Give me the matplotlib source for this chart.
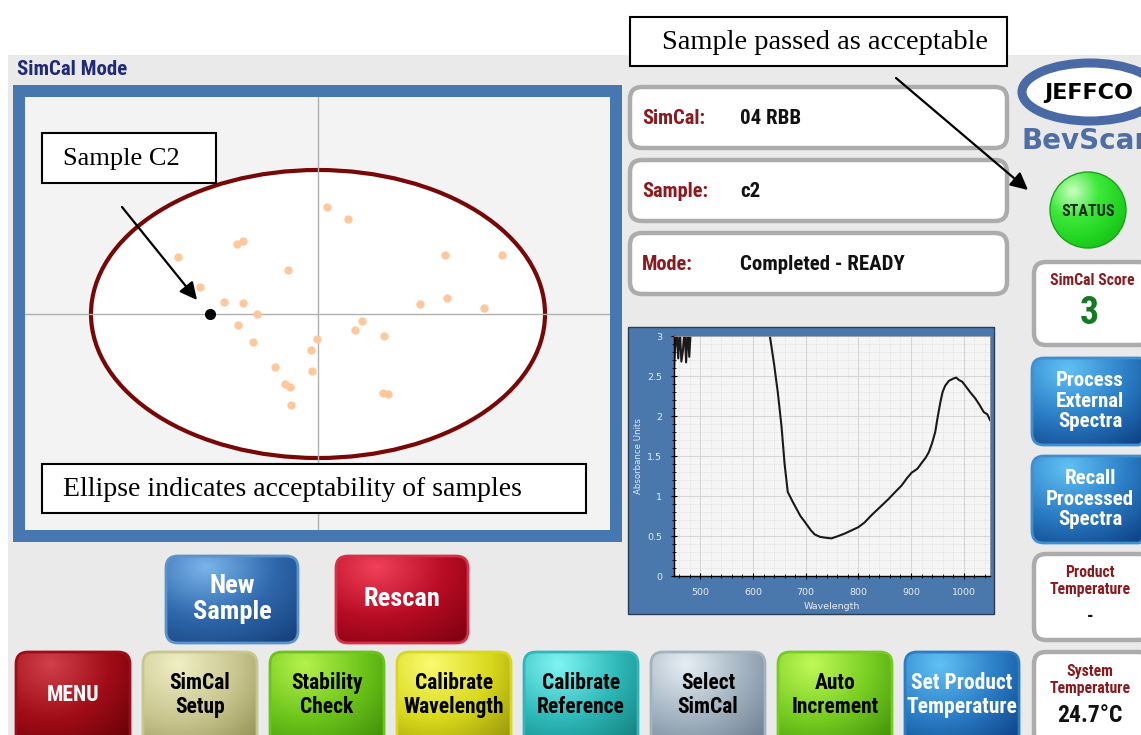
import numpy as np
import matplotlib
matplotlib.use("Agg")
import matplotlib.pyplot as plt
from matplotlib.patches import Rectangle, FancyBboxPatch, Ellipse, Circle
from matplotlib.colors import LinearSegmentedColormap

W, H = 1141, 735
UI = ['Roboto Condensed', 'Liberation Sans Narrow', 'Roboto', 'DejaVu Sans']
SERIF = ['Liberation Serif', 'DejaVu Serif']

# scatter of SimCal scores (PC1, PC2)
pc1 = [0.09, 0.30, -1.40, -0.81, -0.75, -0.30, 1.27, 1.84, -1.18, -0.94, -0.75, -0.61, 1.02, 1.29, 1.66,
       -0.80, 0.44, 0.37, -0.65, 0.66, -0.01, -0.07, -0.43, -0.06, -0.33, -0.28, -0.27, 0.65, 0.70]
pc2 = [1.07, 0.95, 0.57, 0.70, 0.73, 0.44, 0.59, 0.59, 0.27, 0.12, 0.11, 0.00, 0.10, 0.16, 0.06,
       -0.11, -0.07, -0.16, -0.28, -0.22, -0.25, -0.36, -0.53, -0.57, -0.70, -0.73, -0.91, -0.79, -0.80]
sample_c2 = (-1.08, 0.00)
limit_w, limit_h = 4.54, 2.88

# absorbance spectrum
wavelength = [450, 452, 455, 458, 461, 464, 467, 470, 473, 476, 479, 482, 486, 600, 632, 640, 647, 654,
              660, 666, 676, 690, 698, 710, 717, 727, 736, 749, 762, 774, 787, 800, 812, 825, 841, 857,
              870, 882, 892, 901, 912, 921, 928, 934, 940, 946, 951, 956, 960, 965, 972, 981, 986, 991,
              997, 1003, 1012, 1022, 1030, 1038, 1045, 1050]
absorbance = [2.59, 2.85, 3.05, 2.72, 3.1, 2.68, 2.82, 3.1, 2.67, 3.1, 2.74, 3.1, 3.2, 3.3, 3.0, 2.65,
              2.30, 1.88, 1.40, 1.05, 0.92, 0.75, 0.68, 0.57, 0.52, 0.49, 0.48, 0.47, 0.50, 0.53, 0.57,
              0.61, 0.67, 0.76, 0.86, 0.96, 1.05, 1.13, 1.22, 1.29, 1.34, 1.42, 1.48, 1.55, 1.66, 1.80,
              2.00, 2.18, 2.30, 2.38, 2.44, 2.47, 2.48, 2.45, 2.43, 2.38, 2.30, 2.22, 2.14, 2.05, 2.02, 1.95]

info_labels = ['SimCal:', 'Sample:', 'Mode:']
info_values = ['04 RBB', 'c2', 'Completed - READY']

bottom_buttons = ['MENU', 'SimCal\nSetup', 'Stability\nCheck', 'Calibrate\nWavelength',
                  'Calibrate\nReference', 'Select\nSimCal', 'Auto\nIncrement', 'Set Product\nTemperature']
bottom_colors = [('#d0404a', '#a00c16', '#5e0006', 'white'),
                 ('#f0eec4', '#c9c690', '#8f8c50', 'black'),
                 ('#b4f24c', '#6cc41a', '#3a8806', 'black'),
                 ('#fafa70', '#d8d81c', '#8f8c08', 'black'),
                 ('#80f4f4', '#2eb8b8', '#107878', 'black'),
                 ('#e6eef4', '#a2b2c0', '#66788a', 'black'),
                 ('#c0f858', '#76cc20', '#3a8a08', 'black'),
                 ('#60c0f4', '#2a7cc4', '#0a3a7e', 'white')]

fig = plt.figure(figsize=(W / 100, H / 100), dpi=100)
fig.patch.set_facecolor('white')


def px_axes(x0, y0, x1, y1, **kw):
    return fig.add_axes([x0 / W, 1 - y1 / H, (x1 - x0) / W, (y1 - y0) / H], **kw)


bg = px_axes(0, 0, W, H)
bg.set_axis_off()


def grad_box(ax, x0, y0, x1, y1, colors, rim, r=12, z=2):
    patch = FancyBboxPatch((x0, y0), x1 - x0, y1 - y0, boxstyle=f"round,pad=0,rounding_size={r}",
                           fc='none', ec=rim, lw=2, zorder=z + 1)
    ax.add_patch(patch)
    X, Y = np.meshgrid(np.linspace(0, 1, 80), np.linspace(0, 1, 50))
    t = np.sqrt((X - 0.3) ** 2 + ((Y - 0.12) * 0.9) ** 2)
    t = t / t.max()
    cmap = LinearSegmentedColormap.from_list('g', colors)
    im = ax.imshow(t, extent=(x0, x1, y1, y0), origin='upper', cmap=cmap, aspect='auto',
                   interpolation='bilinear', zorder=z)
    im.set_clip_path(patch)


def white_box(ax, x0, y0, x1, y1, r=12):
    ax.add_patch(FancyBboxPatch((x0, y0), x1 - x0, y1 - y0, boxstyle=f"round,pad=0,rounding_size={r}",
                                fc='white', ec='#acacac', lw=3.2, zorder=2))


# panel background
bg.add_patch(Rectangle((8, 55), W - 8, H - 55, fc='#eaeaeb', ec='none', zorder=0))
bg.text(17, 69, 'SimCal Mode', family=UI, weight='bold', fontsize=15, color='#1f2a78', va='center')

# scatter frame
bg.add_patch(Rectangle((13, 85), 609, 457, fc='#4677b0', ec='none', zorder=1))

# info boxes
for i, (lab, val) in enumerate(zip(info_labels, info_values)):
    y0 = 87 + i * 73
    white_box(bg, 630, y0, 1007, y0 + 61)
    bg.text(642, y0 + 31, lab, family=UI, weight='bold', fontsize=14.7, color='#8b1a1e', va='center', zorder=3)
    bg.text(740, y0 + 31, val, family=UI, weight='bold', fontsize=15, color='#111111', va='center', zorder=3)

# spectrum frame
bg.add_patch(Rectangle((628, 327), 366, 287, fc='#4a78ad', ec='#2b3d55', lw=1, zorder=1))

# logo
bg.add_patch(Ellipse((1090, 92), 136, 58, fc='white', ec='#4a6aa6', lw=6.5, zorder=2))
bg.text(1089, 93, 'JEFFCO', family='DejaVu Sans', weight='bold', fontsize=16, color='black',
        ha='center', va='center', zorder=3)
bg.text(1021, 141, 'BevScan', family='DejaVu Sans', weight='bold', fontsize=20, color='#4f6ea5',
        ha='left', va='center', zorder=3)

# status light
circ = Circle((1088, 210), 38, fc='none', ec='#17a517', lw=1, zorder=3)
bg.add_patch(circ)
X, Y = np.meshgrid(np.linspace(0, 1, 80), np.linspace(0, 1, 80))
tt = np.sqrt((X - 0.3) ** 2 + (Y - 0.25) ** 2)
tt = tt / tt.max()
im = bg.imshow(tt, extent=(1050, 1126, 248, 172), origin='upper', aspect='auto', interpolation='bilinear',
               cmap=LinearSegmentedColormap.from_list('s', ['#c8ffc0', '#3ee83a', '#1fd21f', '#14a814']),
               zorder=2)
im.set_clip_path(circ)
bg.text(1088, 211, 'STATUS', family=UI, weight='bold', fontsize=11.5, color='#0c2a0c',
        ha='center', va='center', zorder=4)

# right column
white_box(bg, 1034, 262, 1150, 345)
bg.text(1092, 280, 'SimCal Score', family=UI, weight='bold', fontsize=11.3, color='#8b1a1e', ha='center',
        va='center', zorder=3)
bg.text(1089, 313, '3', family=UI, weight='bold', fontsize=27, color='#127a22', ha='center', va='center', zorder=3)

blue = ('#60c0f4', '#2a7cc4', '#0a3a7e')
grad_box(bg, 1032, 358, 1150, 445, blue, '#3f8ed0')
bg.text(1090, 401, 'Process\nExternal\nSpectra', family=UI, weight='bold', fontsize=15, color='white',
        ha='center', va='center', linespacing=1.1, zorder=5)
grad_box(bg, 1032, 456, 1150, 543, blue, '#3f8ed0')
bg.text(1090, 499, 'Recall\nProcessed\nSpectra', family=UI, weight='bold', fontsize=15, color='white',
        ha='center', va='center', linespacing=1.1, zorder=5)

white_box(bg, 1034, 554, 1150, 640)
bg.text(1090, 581, 'Product\nTemperature', family=UI, weight='bold', fontsize=11.3, color='#8b1a1e',
        ha='center', va='center', linespacing=1.15, zorder=3)
bg.text(1090, 617, '-', family=UI, weight='bold', fontsize=13, color='#111111', ha='center', va='center', zorder=3)

white_box(bg, 1034, 652, 1150, 745)
bg.text(1090, 680, 'System\nTemperature', family=UI, weight='bold', fontsize=11.3, color='#8b1a1e',
        ha='center', va='center', linespacing=1.15, zorder=3)
bg.text(1090, 716, '24.7°C', family=UI, weight='bold', fontsize=17, color='#111111', ha='center',
        va='center', zorder=3)

# New Sample / Rescan
grad_box(bg, 166, 556, 298, 643, ('#7ab4ea', '#2f68ac', '#143e78'), '#5a92cc')
bg.text(232, 599, 'New\nSample', family=UI, weight='bold', fontsize=19, color='white', ha='center',
        va='center', linespacing=1.08, zorder=5)
grad_box(bg, 336, 556, 468, 643, ('#f0405a', '#b80c24', '#7a0010'), '#d83048')
bg.text(402, 599, 'Rescan', family=UI, weight='bold', fontsize=19, color='white', ha='center',
        va='center', zorder=5)

# bottom row
for i, (lab, (c1, c2, c3, tc)) in enumerate(zip(bottom_buttons, bottom_colors)):
    x0 = 16 + i * 127
    grad_box(bg, x0, 652, x0 + 114, 748, (c1, c2, c3), c2)
    bg.text(x0 + 57, 695, lab, family=UI, weight='bold', fontsize=15.5, color=tc, ha='center',
            va='center', linespacing=1.08, zorder=5)

bg.set_xlim(0, W)
bg.set_ylim(H, 0)

# scatter plot
ax = px_axes(25, 97, 610, 530)
ax.set_facecolor('#f3f3f3')
ax.add_patch(Ellipse((0, 0), limit_w, limit_h, fc='white', ec='#780808', lw=3, zorder=1))
ax.axhline(0, color='#b0b0b0', lw=1, zorder=2)
ax.axvline(0, color='#b0b0b0', lw=1, zorder=2)
ax.plot(pc1, pc2, 'o', color='#fcc89c', ms=6, mec='none', zorder=3)
ax.plot(*sample_c2, 'o', color='black', ms=7, zorder=4)
ax.set_xlim(-2.93, 2.92)
ax.set_ylim(-2.16, 2.17)
ax.set_xticks([])
ax.set_yticks([])
for s in ax.spines.values():
    s.set_visible(False)

# spectrum
sp = px_axes(674, 336, 990, 576)
sp.set_facecolor('#f5f5f5')
sp.plot(wavelength, absorbance, color='#1a1a1a', lw=1.5)
sp.set_xlim(450, 1050)
sp.set_ylim(0, 3)
sp.set_xticks([500, 600, 700, 800, 900, 1000])
sp.set_yticks([0, 0.5, 1, 1.5, 2, 2.5, 3])
sp.set_yticklabels(['0', '0.5', '1', '1.5', '2', '2.5', '3'])
sp.set_xticks(np.arange(460, 1050, 20), minor=True)
sp.set_yticks(np.arange(0.1, 3, 0.1), minor=True)
sp.grid(True, which='major', color='#d6d6d6', lw=0.8)
sp.grid(True, which='minor', color='#d4d4d4', lw=0.5, ls=':')
sp.set_axisbelow(True)
sp.tick_params(which='both', colors='black', labelcolor='#e6edf5', labelsize=6.8, direction='inout')
sp.tick_params(which='major', length=5, pad=6)
sp.tick_params(which='minor', length=3)
sp.set_xlabel('Wavelength', color='#e6edf5', fontsize=6.8, labelpad=4)
sp.set_ylabel('Absorbance Units', color='#e6edf5', fontsize=6.2, labelpad=3)
for k in ['top', 'right']:
    sp.spines[k].set_color('#9a9a9a')
    sp.spines[k].set_linewidth(0.6)
for k in ['left', 'bottom']:
    sp.spines[k].set_color('black')
    sp.spines[k].set_linewidth(1)

# annotation overlay
ov = px_axes(0, 0, W, H)
ov.set_axis_off()
ov.patch.set_alpha(0)
for (x0, y0, x1, y1, txt, tx, fs) in [(42, 133, 216, 183, 'Sample C2', 63, 19),
                                      (42, 464, 586, 513, 'Ellipse indicates acceptability of samples', 63, 20),
                                      (630, 17, 1007, 66, 'Sample passed as acceptable', 662, 20.5)]:
    ov.add_patch(Rectangle((x0, y0), x1 - x0, y1 - y0, fc='white', ec='black', lw=1.5))
    ov.text(tx, (y0 + y1) / 2 + 1, txt, family=SERIF, fontsize=fs, color='black', va='center')
ov.annotate('', xy=(197, 300), xytext=(122, 207),
            arrowprops=dict(arrowstyle='-|>', color='black', lw=1.6, mutation_scale=26, shrinkA=0, shrinkB=0))
ov.annotate('', xy=(1028, 190), xytext=(896, 78),
            arrowprops=dict(arrowstyle='-|>', color='black', lw=1.6, mutation_scale=26, shrinkA=0, shrinkB=0))
ov.set_xlim(0, W)
ov.set_ylim(H, 0)

fig.savefig('out.png', dpi=100)
